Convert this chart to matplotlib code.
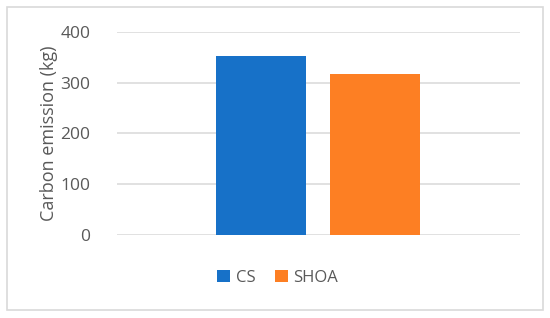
import matplotlib
matplotlib.use("Agg")
import matplotlib.pyplot as plt
from matplotlib.patches import Rectangle

# data
series = ["CS", "SHOA"]
values = [353, 318]
colors = ["#1771c8", "#fd7f23"]
yticks = [0, 100, 200, 300, 400]

plt.rcParams['font.family'] = ['Open Sans', 'DejaVu Sans']
grey = "#595959"

fig = plt.figure(figsize=(5.5, 3.18), dpi=100)
ax = fig.add_axes([0.2127, 0.261, 0.7327, 0.6384])

offsets = [-0.142, 0.141]
width = 0.223
for s, v, c, o in zip(series, values, colors, offsets):
    ax.bar(o, v, width=width, color=c, label=s, zorder=3)

ax.set_xlim(-0.5, 0.5)
ax.set_ylim(0, 400)
ax.set_yticks(yticks)
ax.set_xticks([])
ax.yaxis.grid(True, color="#d9d9d9", linewidth=1.1, zorder=0)
for sp in ax.spines.values():
    sp.set_visible(False)
ax.tick_params(axis='y', length=0, pad=19, labelsize=12.5, labelcolor=grey)
ax.set_ylabel("Carbon emission (kg)", fontsize=13, color=grey, labelpad=2)

fig.legend(loc='center', bbox_to_anchor=(0.505, 0.126), ncol=2, frameon=False,
           fontsize=12, labelcolor=grey, handlelength=0.75, handleheight=0.75,
           handletextpad=0.35, columnspacing=1.2)

# outer chart border
fig.patches.append(Rectangle((7/550, 1-310/318), 536/550, 303/318,
                             transform=fig.transFigure, fill=False,
                             edgecolor="#d9d9d9", linewidth=1.2))

fig.savefig("out.png", dpi=100)
